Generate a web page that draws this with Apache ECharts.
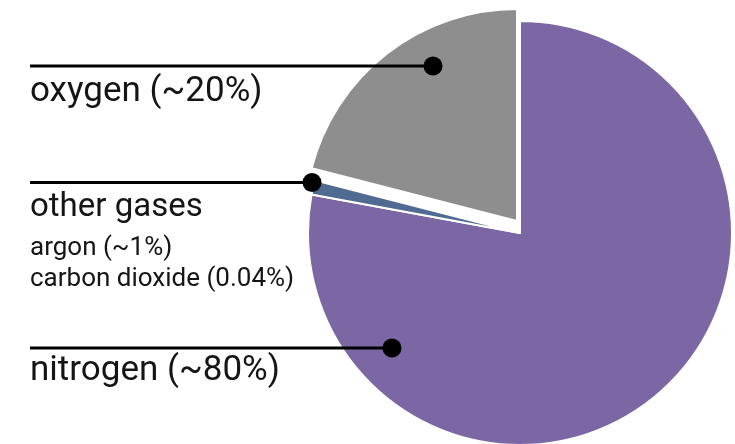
<!DOCTYPE html>
<html>
<head>
<meta charset="utf-8">
<script src="https://cdn.jsdelivr.net/npm/echarts@6/dist/echarts.min.js"></script>
<style>html,body{margin:0;padding:0;background:#fff;}#c{width:735px;height:444px;}</style>
</head>
<body>
<div id="c"></div>
<script>
// ---- data ----
const categories = ['nitrogen', 'other gases', 'oxygen'];
const values = [77.9, 1.1, 21];
const colors = ['#7b67a4', '#4f6b92', '#8e8e8e'];
const mainLabels = ['nitrogen (~80%)', 'other gases', 'oxygen (~20%)'];
const otherDetails = ['argon (~1%)', 'carbon dioxide (0.04%)'];

const chart = echarts.init(document.getElementById('c'), null, {renderer: 'canvas'});
const FONT = 'Roboto, "Noto Sans", sans-serif';
const INK = '#151515';

// annotation layout (line y, dot x, text centre y, font size)
const notes = [
  {lineY: 348, dotX: 392, textY: 371, size: 35},
  {lineY: 182.5, dotX: 312, textY: 208, size: 33},
  {lineY: 66, dotX: 433, textY: 92, size: 35}
];

const graphic = [];
notes.forEach((n, i) => {
  graphic.push({type: 'line', z: 10, shape: {x1: 30, y1: n.lineY, x2: n.dotX, y2: n.lineY},
    style: {stroke: '#000', lineWidth: 3}});
  graphic.push({type: 'circle', z: 11, shape: {cx: n.dotX, cy: n.lineY, r: 9.5},
    style: {fill: '#000'}});
  graphic.push({type: 'text', z: 11, style: {text: mainLabels[i], x: 30, y: n.textY,
    font: n.size + 'px ' + FONT, fill: INK, verticalAlign: 'middle'}});
});
const subY = [248, 279];
otherDetails.forEach((t, i) => {
  graphic.push({type: 'text', z: 11, style: {text: t, x: 30, y: subY[i],
    font: '26px ' + FONT, fill: INK, verticalAlign: 'middle'}});
});

// pulled-out slice: drawn by a second pie layer whose centre is shifted
const pulled = 'oxygen';
function pieData(showPulled) {
  return categories.map((c, i) => {
    const visible = (c === pulled) === showPulled;
    return {
      name: c, value: values[i],
      itemStyle: visible
        ? {color: colors[i], borderColor: '#fff', borderWidth: 2}
        : {color: 'rgba(0,0,0,0)', borderWidth: 0}
    };
  });
}
const pieBase = {
  type: 'pie', radius: 212, startAngle: 90, clockwise: true,
  silent: true, label: {show: false}, labelLine: {show: false},
  emphasis: {disabled: true}
};

chart.setOption({
  animation: false,
  backgroundColor: '#fff',
  graphic: graphic,
  series: [
    Object.assign({}, pieBase, {center: [520, 233], data: pieData(false)}),
    Object.assign({}, pieBase, {center: [517, 221], data: pieData(true)})
  ]
});
</script>
</body>
</html>
